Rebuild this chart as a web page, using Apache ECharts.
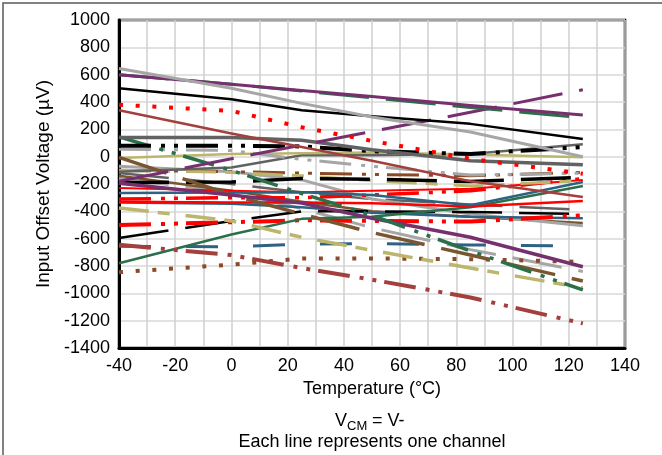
<!DOCTYPE html>
<html>
<head>
<meta charset="utf-8">
<script src="https://cdn.jsdelivr.net/npm/echarts@6/dist/echarts.min.js"></script>
<style>html,body{margin:0;padding:0;background:#fff;}#c{width:662px;height:455px;}</style>
</head>
<body>
<div id="c"></div>
<script>
// Temperatures (°C) at which every channel is sampled
var temps = [-40, 0, 25, 50, 85, 125];
var xTickLabels = [-40, -20, 0, 20, 40, 60, 80, 100, 120, 140];
var yTickLabels = [-1400, -1200, -1000, -800, -600, -400, -200, 0, 200, 400, 600, 800, 1000];

// Input offset voltage (µV) per channel, at the temps above
var ch01 = [645, 500, 390, 290, 180, 0];
var ch02 = [600, 530, 485, 440, 375, 305];
var ch03 = [600, 530, 480, 430, 360, 285];
var ch04 = [500, 420, 340, 295, 240, 130];
var ch05 = [380, 335, 215, 115, -15, -125];
var ch06 = [340, 170, 70, -30, -180, -295];
var ch07 = [-180, -15, 85, 185, 325, 490];
var ch08 = [140, 140, 120, 50, -30, -60];
var ch09 = [80, 80, 75, 40, 20, 70];
var ch10 = [145, -100, -270, -430, -690, -975];
var ch11 = [55, 45, -20, -70, -135, -120];
var ch12 = [-10, 20, 25, 30, 15, -5];
var ch13 = [-110, -80, 10, 10, 20, 90];
var ch14 = [-5, -280, -420, -555, -720, -910];
var ch15 = [-190, -185, -160, -165, -182, -150];
var ch16 = [-265, -262, -260, -280, -355, -185];
var ch17 = [-330, -335, -335, -340, -365, -325];
var ch18 = [-195, -280, -340, -450, -590, -805];
var ch19 = [-780, -570, -455, -440, -370, -215];
var ch20 = [-500, -480, -465, -470, -475, -430];
var ch21 = [-595, -470, -400, -400, -405, -420];
var ch22 = [-655, -660, -640, -635, -646, -653];
var ch23 = [-645, -720, -815, -900, -1030, -1220];
var ch24 = [-845, -790, -745, -745, -750, -770];
var ch25 = [-375, -470, -590, -685, -815, -960];
var ch26 = [-100, -115, -140, -175, -215, -175];
var ch27 = [-100, -110, -120, -130, -140, -115];
var ch28 = [-140, -250, -330, -400, -440, -485];
var ch29 = [-70, -110, -170, -310, -420, -505];
var ch30 = [-120, -200, -260, -310, -350, -390];
var ch31 = [-160, -260, -380, -520, -680, -840];
var ch32 = [-230, -250, -260, -250, -235, -170];
var ch33 = [-310, -300, -300, -280, -250, -160];
var ch34 = [-335, -345, -370, -410, -440, -450];

// ---- styles (kept separate from data) ----
var C = {
  black: '#000000', red: '#FF0000', darkred: '#A3403D', green: '#2A6F4A',
  purple: '#77306E', gray: '#A6A6A6', dgray: '#626262', khaki: '#BCB56C',
  brown: '#7A5630', teal: '#2D6283', rbrown: '#8B4A26'
};
var D = {
  solid: 'solid',
  longDash: [50, 17],
  dash: [32, 35],
  dashDotDot: [32, 10, 4, 9, 4, 8],
  dashDot: [30, 9, 12, 16],
  sqDot: [4, 12.7]
};
var defs = [
  [ch30, C.dgray, D.longDash, 2.5],
  [ch31, C.gray, D.longDash, 3],
  [ch28, C.brown, D.solid, 2.5],
  [ch29, C.gray, D.solid, 3],
  [ch34, C.teal, D.solid, 2.5],
  [ch33, C.red, D.dashDotDot, 3.5],
  [ch32, C.red, D.solid, 2],
  [ch27, C.rbrown, D.dashDotDot, 3],
  [ch26, C.khaki, D.dashDot, 3],
  [ch24, C.rbrown, D.sqDot, 4],
  [ch22, C.teal, D.dash, 3],
  [ch21, C.black, D.longDash, 2.5],
  [ch20, C.red, D.dashDotDot, 4],
  [ch19, C.green, D.solid, 2.5],
  [ch17, C.red, D.solid, 2.5],
  [ch16, C.teal, D.solid, 2.5],
  [ch15, C.black, D.longDash, 3.5],
  [ch13, C.dgray, D.solid, 2.5],
  [ch12, C.khaki, D.solid, 2.5],
  [ch11, C.gray, D.dashDotDot, 3],
  [ch25, C.khaki, D.dashDot, 3.5],
  [ch14, C.brown, D.longDash, 3.5],
  [ch18, C.purple, D.solid, 3.5],
  [ch23, C.darkred, D.dashDotDot, 4],
  [ch10, C.green, D.dashDotDot, 3.5],
  [ch09, C.black, D.dashDotDot, 4],
  [ch08, C.dgray, D.solid, 3.5],
  [ch07, C.purple, D.longDash, 3],
  [ch06, C.darkred, D.solid, 2.5],
  [ch05, C.red, D.sqDot, 4],
  [ch04, C.black, D.solid, 2.5],
  [ch03, C.green, D.longDash, 3],
  [ch02, C.purple, D.solid, 3],
  [ch01, C.gray, D.solid, 3]
];

var series = defs.map(function (d, i) {
  return {
    type: 'line',
    name: 'ch' + i,
    data: temps.map(function (t, k) { return [t, d[0][k]]; }),
    symbol: 'none',
    smooth: false,
    clip: true,
    lineStyle: { color: d[1], type: d[2], width: d[3], cap: 'butt', join: 'round' },
    emphasis: { disabled: true },
    z: 3
  };
});

var FONT = 'Liberation Sans, Arial, sans-serif';
var chart = echarts.init(document.getElementById('c'), null, { renderer: 'canvas' });
chart.setOption({
  animation: false,
  backgroundColor: '#ffffff',
  grid: { left: 119, right: 37, top: 20, bottom: 107, show: true, borderColor: '#000', borderWidth: 2.5, backgroundColor: 'transparent' },
  xAxis: {
    type: 'value', min: -40, max: 140, interval: 10,
    name: 'Temperature (°C)', nameLocation: 'middle', nameGap: 20,
    nameTextStyle: { color: '#000', fontSize: 18, fontFamily: FONT },
    axisLine: { show: true, onZero: false, lineStyle: { color: '#000', width: 3 } },
    axisTick: { show: false },
    axisLabel: {
      color: '#000', fontSize: 18, fontFamily: FONT, margin: 9,
      formatter: function (v) { return xTickLabels.indexOf(v) >= 0 ? String(v) : ''; }
    },
    splitLine: { show: true, lineStyle: { color: '#CFCFCF', width: 1.5 } }
  },
  yAxis: {
    type: 'value', min: -1400, max: 1000, interval: 200,
    name: 'Input Offset Voltage (µV)', nameLocation: 'middle', nameGap: 63,
    nameTextStyle: { color: '#000', fontSize: 19, fontFamily: FONT },
    axisLine: { show: true, onZero: false, lineStyle: { color: '#000', width: 3 } },
    axisTick: { show: false },
    axisLabel: {
      color: '#000', fontSize: 18, fontFamily: FONT, margin: 9,
      formatter: function (v) { return yTickLabels.indexOf(v) >= 0 ? String(v) : ''; }
    },
    splitLine: { show: true, lineStyle: { color: '#D9D9D9', width: 1.5 } }
  },
  graphic: [
    { type: 'rect', silent: true, z: 100, shape: { x: 3, y: 3, width: 720, height: 520 }, style: { fill: 'none', stroke: '#595959', lineWidth: 1.5 } },
    { type: 'text', silent: true, z: 100, x: 335, y: 421, style: { text: 'V', fontSize: 18, fontFamily: FONT, fill: '#000', verticalAlign: 'middle', align: 'left' } },
    { type: 'text', silent: true, z: 100, x: 347, y: 426, style: { text: 'CM', fontSize: 13, fontFamily: FONT, fill: '#000', verticalAlign: 'middle', align: 'left' } },
    { type: 'text', silent: true, z: 100, x: 367, y: 421, style: { text: ' = V-', fontSize: 18, fontFamily: FONT, fill: '#000', verticalAlign: 'middle', align: 'left' } },
    { type: 'text', silent: true, z: 100, x: 372, y: 442, style: { text: 'Each line represents one channel', fontSize: 18, fontFamily: FONT, fill: '#000', verticalAlign: 'middle', align: 'center' } }
  ],
  series: series
});
</script>
</body>
</html>
